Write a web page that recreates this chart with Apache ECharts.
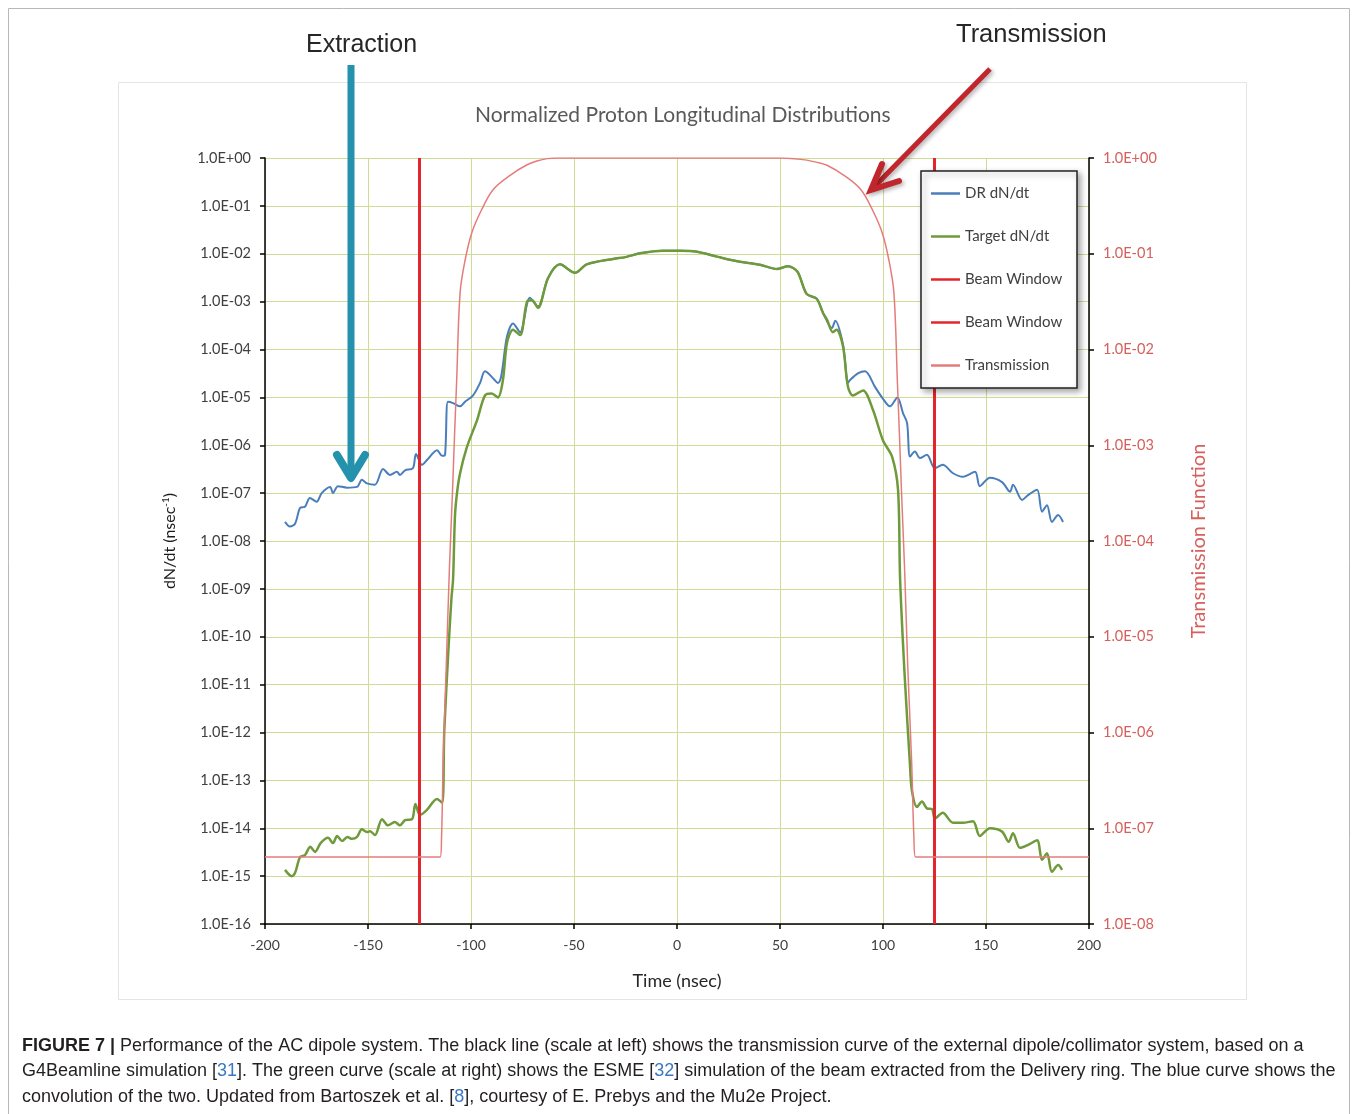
<!DOCTYPE html>
<html>
<head>
<meta charset="utf-8">
<script src="https://cdn.jsdelivr.net/npm/echarts@6/dist/echarts.min.js"></script>
<style>
  html, body { margin: 0; padding: 0; background: #fff; }
  #chart { width: 1358px; height: 1114px; }
</style>
</head>
<body>
<div id="chart"></div>
<script>
// DR dN/dt (blue), time in nsec
const drTime = [-190.3, -187.9, -185.4, -183, -180.6, -178.2, -174.9, -172.5, -168.4, -167, -164.6, -160.2, -155.3, -153, -150.5, -146.6, -142.7, -139.3, -136, -134.5, -132, -128.2, -126.7, -123.8, -121.4, -116.5, -114, -112.6, -111.2, -108.7, -105.3, -102.9, -99, -95.6, -93.2, -86.9, -82.5, -79.6, -76.2, -71.4, -67.5, -62.6, -56.8, -49.5, -43.8, -31, -25, -18, -6.8, 1.5, 9.7, 19.4, 25, 30.6, 40.3, 48.5, 53.9, 58.5, 62.9, 67.8, 70.9, 75.2, 76.8, 80.6, 83, 84, 88, 91.3, 96.1, 99.5, 103.4, 107, 109.7, 111.7, 113.1, 115.5, 117.9, 121.3, 125.2, 129, 134, 138.8, 144.7, 147, 151.9, 157.8, 161.7, 163.1, 167.5, 170.4, 174.8, 177.2, 179.6, 182, 185, 187.4]
const drValue = [2.5e-8, 2.0e-8, 2.3e-8, 4.9e-8, 5.2e-8, 7.9e-8, 6.6e-8, 1.0e-7, 1.35e-7, 1.0e-7, 1.4e-7, 1.3e-7, 1.35e-7, 1.9e-7, 1.6e-7, 1.5e-7, 3.2e-7, 2.4e-7, 2.8e-7, 2.4e-7, 3.0e-7, 3.3e-7, 6.6e-7, 3.9e-7, 4.9e-7, 7.9e-7, 6.0e-7, 6.3e-7, 8.1e-6, 7.6e-6, 6.5e-6, 8.1e-6, 1.1e-5, 2.0e-5, 3.5e-5, 2.0e-5, 1.9e-4, 3.5e-4, 2.3e-4, 1.2e-3, 7.9e-4, 3.1e-3, 6.0e-3, 4.0e-3, 6.0e-3, 7.8e-3, 8.5e-3, 1.02e-2, 1.15e-2, 1.15e-2, 1.1e-2, 8.7e-3, 7.6e-3, 6.8e-3, 5.9e-3, 4.8e-3, 5.5e-3, 4.2e-3, 1.45e-3, 1.15e-3, 5.8e-4, 2.8e-4, 4.0e-4, 1.26e-4, 2.0e-5, 2.3e-5, 3.2e-5, 3.5e-5, 1.66e-5, 1.0e-5, 6.5e-6, 1.0e-5, 4.7e-6, 2.9e-6, 5.8e-7, 7.4e-7, 5.4e-7, 6.3e-7, 3.3e-7, 3.9e-7, 2.6e-7, 2.2e-7, 2.8e-7, 1.4e-7, 2.1e-7, 1.7e-7, 1.07e-7, 1.5e-7, 7.2e-8, 9.1e-8, 1.17e-7, 4.1e-8, 5.6e-8, 2.5e-8, 3.5e-8, 2.5e-8]

// Target dN/dt (green)
const tgtTime = [-190.3, -187, -185.4, -183, -180.6, -178, -175.7, -173, -169.4, -167, -165, -162.6, -160, -157.8, -155.3, -153, -150.5, -149, -146.6, -143.2, -140.3, -137, -134.5, -132, -128.6, -127, -124.8, -121.5, -116.5, -114, -113, -111, -109.5, -108.7, -107.8, -106.8, -105.3, -102, -97, -93.2, -90, -86.9, -84.5, -82.5, -79.6, -76.2, -72.8, -70.4, -67.5, -62.6, -56.8, -49.5, -43.8, -31, -25, -18, -6.8, 1.5, 9.7, 19.4, 25, 30.6, 40.3, 48.5, 53.9, 58.5, 62.9, 67.8, 70.9, 72.8, 75.7, 77.5, 80.6, 83, 85.4, 90.3, 95.1, 100, 104.4, 107.3, 108.3, 110.5, 113, 114, 116.5, 118.9, 121.3, 123.8, 125.2, 129, 134, 138.8, 143.7, 147, 151.9, 157.8, 161, 163.1, 166.5, 170.4, 174.8, 177.2, 179.6, 182, 185, 186.9]
const tgtValue = [1.35e-15, 1.0e-15, 1.17e-15, 2.5e-15, 2.75e-15, 4.1e-15, 3.2e-15, 4.9e-15, 6.3e-15, 4.9e-15, 6.9e-15, 5.4e-15, 6.6e-15, 6.0e-15, 6.6e-15, 9.5e-15, 8.3e-15, 8.7e-15, 7.2e-15, 1.55e-14, 1.15e-14, 1.35e-14, 1.15e-14, 1.48e-14, 1.55e-14, 3.2e-14, 1.9e-14, 2.4e-14, 4.1e-14, 3.4e-14, 1.0e-12, 5.0e-11, 6.3e-10, 1.6e-9, 3.2e-8, 1.0e-7, 2.6e-7, 9.1e-7, 3.4e-6, 1.1e-5, 1.2e-5, 1.0e-5, 2.3e-5, 1.4e-4, 2.6e-4, 2.0e-4, 1.0e-3, 1.07e-3, 7.4e-4, 3.1e-3, 6.0e-3, 4.0e-3, 6.0e-3, 7.8e-3, 8.5e-3, 1.02e-2, 1.15e-2, 1.15e-2, 1.1e-2, 8.7e-3, 7.6e-3, 6.8e-3, 5.9e-3, 4.8e-3, 5.5e-3, 4.2e-3, 1.45e-3, 1.15e-3, 5.8e-4, 4.2e-4, 2.3e-4, 2.6e-4, 1.15e-4, 1.66e-5, 1.1e-5, 1.4e-5, 5.5e-6, 1.26e-6, 5.8e-7, 1.17e-7, 1.6e-9, 1.6e-11, 2.5e-13, 6.3e-14, 2.8e-14, 3.6e-14, 2.6e-14, 2.5e-14, 1.6e-14, 2.1e-14, 1.3e-14, 1.3e-14, 1.4e-14, 6.9e-15, 1.0e-14, 8.5e-15, 5.2e-15, 7.9e-15, 3.9e-15, 4.5e-15, 5.6e-15, 2.2e-15, 3.0e-15, 1.23e-15, 1.7e-15, 1.35e-15]

// Transmission function (right scale)
const trTime = [-200, -115, -114.3, -113.5, -112, -110.5, -109, -108, -107, -105.3, -102.9, -99.6, -94.8, -89.2, -81, -72.8, -68, -63, -58, 50, 57, 63, 68, 72.8, 81, 89.2, 94.8, 99.6, 102.9, 105.3, 107, 108, 109, 110.5, 112, 113.9, 115, 115.8, 200]
const trValue = [5e-8, 5e-8, 8e-8, 5e-7, 5e-6, 5e-5, 3.2e-4, 1.26e-3, 4.5e-3, 3.9e-2, 8.5e-2, 0.166, 0.29, 0.47, 0.66, 0.85, 0.93, 0.985, 1, 1, 0.985, 0.95, 0.9, 0.84, 0.66, 0.47, 0.29, 0.166, 0.085, 0.039, 4.5e-3, 1.26e-3, 3.2e-4, 5e-5, 5e-6, 5e-7, 8e-8, 5e-8, 5e-8]

// beam window edges (nsec), drawn across the full left scale
const windowTimes = [-125, 125]
const windowSpan = [1e-16, 1]

const xTicks = { min: -200, max: 200, step: 50 }

function zip(xs, ys) {
  return xs.map((x, i) => [x, ys[i]])
}

function sciLabel(v) {
  const e = Math.round(Math.log10(v))
  return '1.0E' + (e < 0 ? '-' : '+') + String(Math.abs(e)).padStart(2, '0')
}

const chart = echarts.init(document.getElementById('chart'))
const font = 'Lato'
const capFont = '"Liberation Sans", Arial, sans-serif'

const option = {
  animation: false,
  backgroundColor: '#fff',
  title: {
    text: 'Normalized Proton Longitudinal Distributions',
    left: 470,
    top: 100,
    textStyle: { color: '#595959', fontSize: 21, fontWeight: 'normal', fontFamily: font }
  },
  grid: { left: 265, right: 269, top: 158, bottom: 190 },
  legend: {
    orient: 'vertical',
    left: 921,
    top: 171,
    padding: [15, 11, 15, 10],
    itemGap: 28,
    itemWidth: 29,
    itemHeight: 2.5,
    icon: 'rect',
    backgroundColor: '#fff',
    borderColor: '#222',
    borderWidth: 1.5,
    shadowColor: 'rgba(0,0,0,0.35)',
    shadowBlur: 6,
    shadowOffsetX: 3,
    shadowOffsetY: 3,
    textStyle: { color: '#404040', fontSize: 15, fontFamily: font },
    data: ['DR dN/dt', 'Target dN/dt', 'Beam Window', 'Beam Window ', 'Transmission']
  },
  xAxis: {
    type: 'value',
    min: xTicks.min,
    max: xTicks.max,
    interval: xTicks.step,
    name: 'Time (nsec)',
    nameLocation: 'middle',
    nameGap: 48,
    nameTextStyle: { color: '#262626', fontSize: 18, fontFamily: font },
    axisLine: { show: true, onZero: false, lineStyle: { color: '#000', width: 1.5 } },
    axisTick: { show: true, length: 5, lineStyle: { color: '#000', width: 1.5 } },
    axisLabel: { color: '#404040', fontSize: 14, margin: 14, fontFamily: font },
    splitLine: { show: true, lineStyle: { color: '#cfdc95', width: 1 } }
  },
  yAxis: [
    {
      type: 'log',
      logBase: 10,
      min: 1e-16,
      max: 1,
      interval: 1,
      position: 'left',
      name: 'dN/dt (nsec{s|-1})',
      nameLocation: 'middle',
      nameGap: 86,
      nameTextStyle: {
        color: '#1a1a1a',
        fontSize: 16,
        fontFamily: font,
        rich: { s: { fontSize: 10, verticalAlign: 'top', padding: [0, 0, 8, 0], color: '#1a1a1a', fontFamily: font } }
      },
      axisLine: { show: true, onZero: false, lineStyle: { color: '#000', width: 1.5 } },
      axisTick: { show: true, length: 5, lineStyle: { color: '#000', width: 1.5 } },
      axisLabel: { formatter: sciLabel, color: '#404040', fontSize: 14.5, margin: 14, fontFamily: font },
      splitLine: { show: true, lineStyle: { color: '#cfdc95', width: 1.2 } }
    },
    {
      type: 'log',
      logBase: 10,
      min: 1e-8,
      max: 1,
      interval: 1,
      position: 'right',
      name: 'Transmission Function',
      nameLocation: 'middle',
      nameGap: 100,
      nameTextStyle: { color: '#d5605c', fontSize: 20, fontFamily: font },
      axisLine: { show: true, onZero: false, lineStyle: { color: '#000', width: 1.5 } },
      axisTick: { show: true, length: 5, lineStyle: { color: '#000', width: 1.5 } },
      axisLabel: { formatter: sciLabel, color: '#d5605c', fontSize: 14.5, margin: 14, fontFamily: font },
      splitLine: { show: false }
    }
  ],
  series: [
    {
      name: 'DR dN/dt',
      type: 'line',
      yAxisIndex: 0,
      showSymbol: false,
      smooth: 0.3,
      lineStyle: { color: '#4a7ebb', width: 2 },
      itemStyle: { color: '#4a7ebb' },
      data: zip(drTime, drValue)
    },
    {
      name: 'Target dN/dt',
      type: 'line',
      yAxisIndex: 0,
      showSymbol: false,
      smooth: 0.3,
      lineStyle: { color: '#6f9a3b', width: 2.5 },
      itemStyle: { color: '#6f9a3b' },
      data: zip(tgtTime, tgtValue)
    },
    {
      name: 'Beam Window',
      type: 'line',
      yAxisIndex: 0,
      showSymbol: false,
      lineStyle: { color: '#e3262e', width: 3 },
      itemStyle: { color: '#e3262e' },
      data: zip([windowTimes[0], windowTimes[0]], windowSpan)
    },
    {
      name: 'Beam Window ',
      type: 'line',
      yAxisIndex: 0,
      showSymbol: false,
      lineStyle: { color: '#e3262e', width: 3 },
      itemStyle: { color: '#e3262e' },
      data: zip([windowTimes[1], windowTimes[1]], windowSpan)
    },
    {
      name: 'Transmission',
      type: 'line',
      yAxisIndex: 1,
      showSymbol: false,
      smooth: 0.35,
      lineStyle: { color: '#e57c7c', width: 1.5 },
      itemStyle: { color: '#e57c7c' },
      data: zip(trTime, trValue)
    }
  ],
  graphic: [
    // figure frame and chart frame
    { type: 'rect', shape: { x: 8.5, y: 8.5, width: 1341, height: 1130 }, style: { fill: null, stroke: '#b8b8b8', lineWidth: 1 }, silent: true },
    { type: 'rect', shape: { x: 118.5, y: 82.5, width: 1128, height: 917 }, style: { fill: null, stroke: '#e4e4e4', lineWidth: 1 }, silent: true },
    // Extraction annotation
    { type: 'text', x: 306, y: 45, style: { text: 'Extraction', fill: '#262626', font: '25px ' + capFont, verticalAlign: 'middle' }, z: 10 },
    { type: 'polyline', shape: { points: [[351, 65], [351, 476]] }, style: { stroke: '#2592ad', lineWidth: 7, fill: null }, z: 10 },
    { type: 'polyline', shape: { points: [[337, 455], [351, 478], [365, 455]] }, style: { stroke: '#2592ad', lineWidth: 8, fill: null, lineJoin: 'round', lineCap: 'round' }, z: 10 },
    // Transmission annotation
    { type: 'text', x: 956, y: 35, style: { text: 'Transmission', fill: '#262626', font: '25.5px ' + capFont, verticalAlign: 'middle' }, z: 10 },
    { type: 'polyline', shape: { points: [[990, 69], [874, 187]] }, style: { stroke: '#c0262c', lineWidth: 5, fill: null, shadowBlur: 4, shadowColor: 'rgba(0,0,0,0.3)', shadowOffsetX: 2, shadowOffsetY: 2 }, z: 10 },
    { type: 'polyline', shape: { points: [[882, 164], [871, 190], [899, 181]] }, style: { stroke: '#c0262c', lineWidth: 6, fill: null, lineJoin: 'miter', lineCap: 'round', shadowBlur: 4, shadowColor: 'rgba(0,0,0,0.3)', shadowOffsetX: 2, shadowOffsetY: 2 }, z: 10 },
    // caption
    {
      type: 'text', x: 22, y: 1046,
      style: {
        text: '{b|FIGURE 7 |} Performance of the AC dipole system. The black line (scale at left) shows the transmission curve of the external dipole/collimator system, based on a',
        fill: '#231f20', fontSize: 18, fontFamily: capFont, verticalAlign: 'middle',
        rich: { b: { fontWeight: 'bold', fontSize: 18, fontFamily: capFont, fill: '#231f20' } }
      }
    },
    {
      type: 'text', x: 22, y: 1071,
      style: {
        text: 'G4Beamline simulation [{r|31}]. The green curve (scale at right) shows the ESME [{r|32}] simulation of the beam extracted from the Delivery ring. The blue curve shows the',
        fill: '#231f20', fontSize: 18, fontFamily: capFont, verticalAlign: 'middle',
        rich: { r: { fontSize: 18, fontFamily: capFont, fill: '#3a78c2' } }
      }
    },
    {
      type: 'text', x: 22, y: 1097,
      style: {
        text: 'convolution of the two. Updated from Bartoszek et al. [{r|8}], courtesy of E. Prebys and the Mu2e Project.',
        fill: '#231f20', fontSize: 18, fontFamily: capFont, verticalAlign: 'middle',
        rich: { r: { fontSize: 18, fontFamily: capFont, fill: '#3a78c2' } }
      }
    }
  ]
}

chart.setOption(option)
</script>
</body>
</html>
